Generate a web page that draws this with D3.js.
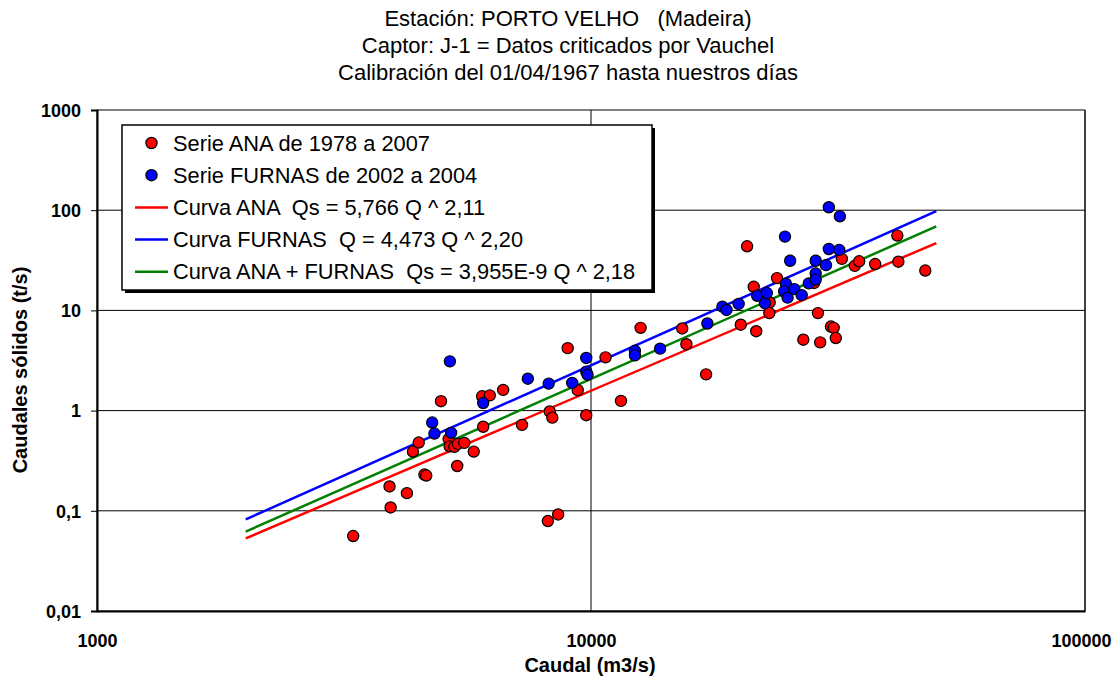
<!DOCTYPE html>
<html>
<head>
<meta charset="utf-8">
<script src="https://cdn.jsdelivr.net/npm/d3@7"></script>
<style>
  body { margin: 0; background: #fff; }
  svg { font-family: Arial, "Liberation Sans", sans-serif; }
  svg text { white-space: pre; }
</style>
</head>
<body>
<div class="item"></div>
<script>
// datos
var titleLines = ["Estación: PORTO VELHO   (Madeira)",
                  "Captor: J-1 = Datos criticados por Vauchel",
                  "Calibración del 01/04/1967 hasta nuestros días"];

// Serie ANA (Q m3/s, Qs t/s)
var anaQ  = [3300, 3910, 3930, 4240, 4360, 4480, 4600, 4640, 4970, 5150, 5175, 5290, 5380, 5540,
             5360, 5790, 6020, 6240, 6050, 6640, 7250, 8250, 8350, 8180, 8580, 8970, 9400, 9780,
             10700, 11500, 12600, 15300, 15600, 17100, 20100, 20700, 21350, 21600, 23000, 22960,
             23800, 26900, 28300, 28800, 29100, 30600, 31000, 31300, 32200, 34200, 34900, 37600,
             41700, 41900, 47500];
var anaQs = [0.056, 0.175, 0.108, 0.15, 0.39, 0.48, 0.23, 0.225, 1.24, 0.52, 0.44, 0.435, 0.465, 0.476,
             0.28, 0.39, 1.39, 1.42, 0.69, 1.61, 0.72, 0.98, 0.85, 0.079, 0.092, 4.2, 1.6, 0.9,
             3.4, 1.25, 6.7, 6.6, 4.6, 2.3, 7.2, 43.6, 17.2, 6.2, 12, 9.4,
             21, 5.1, 18.8, 9.4, 4.8, 6.9, 6.7, 5.3, 32.7, 27.8, 30.9, 29,
             55.8, 30.6, 25];

// Serie FURNAS
var furnasQ  = [4770, 4820, 5180, 5210, 6050, 7450, 8210, 9160, 9780, 9780, 9840, 12270, 12270, 13800,
                17200, 18450, 18800, 19900, 21700, 22500, 22700, 24700, 25300, 24800, 24600, 25000,
                25800, 26700, 27600, 28500, 28500, 28500, 29900, 30300, 30300, 31900, 31800];
var furnasQs = [0.76, 0.59, 3.1, 0.6, 1.19, 2.08, 1.86, 1.89, 3.35, 2.45, 2.28, 3.95, 3.56, 4.15,
                7.4, 10.9, 10.1, 11.6, 14, 11.8, 14.9, 54.5, 31.3, 18.5, 15.5, 13.4,
                16.3, 14.2, 18.6, 23.4, 20.3, 31.3, 28.3, 107, 41, 87, 40.2];

// curvas (extremos)
var curveQ      = [2000, 50000];
var curveAna    = [0.053, 47];
var curveFurnas = [0.082, 98];
var curveMix    = [0.062, 69];

var legendLabels = ["Serie ANA de 1978 a 2007",
                    "Serie FURNAS de 2002 a 2004",
                    "Curva ANA  Qs = 5,766 Q ^ 2,11",
                    "Curva FURNAS  Q = 4,473 Q ^ 2,20",
                    "Curva ANA + FURNAS  Qs = 3,955E-9 Q ^ 2,18"];
var legendColors = ["#ff0000", "#0000ff", "#ff0000", "#0000ff", "#008000"];

var xTicks = [1000, 10000, 100000];
var yTicks = [0.01, 0.1, 1, 10, 100, 1000];

var width = 1119;
var height = 681;

var svg = d3.select(".item")
    .append("svg")
    .attr("width", width)
    .attr("height", height);

var x = d3.scaleLog().domain([1000, 100000]).range([97, 1085]);
var y = d3.scaleLog().domain([0.01, 1000]).range([611, 110]);

// titulo
svg.selectAll(".title")
    .data(titleLines)
    .enter().append("text")
    .attr("x", 568)
    .attr("y", function(d, i){ return 26 + i * 27; })
    .attr("text-anchor", "middle")
    .style("font-size", "22px")
    .text(function(d){ return d; });

// rejilla
svg.selectAll(".hgrid")
    .data(yTicks)
    .enter().append("line")
    .attr("x1", x(1000)).attr("x2", x(100000))
    .attr("y1", function(d){ return y(d); })
    .attr("y2", function(d){ return y(d); })
    .style("stroke", "#000")
    .style("stroke-width", 1);

svg.selectAll(".vgrid")
    .data(xTicks)
    .enter().append("line")
    .attr("x1", function(d){ return x(d); })
    .attr("x2", function(d){ return x(d); })
    .attr("y1", y(1000)).attr("y2", y(0.01))
    .style("stroke", "#000")
    .style("stroke-width", function(d){ return d == 100000 ? 1.5 : 1; });

// ejes
var fmt = function(d){ return String(d).replace(".", ","); };

var yAxis = svg.append("g")
    .attr("transform", "translate(" + x(1000) + ",0)")
    .call(d3.axisLeft(y).tickValues(yTicks).tickFormat(fmt).tickSize(6).tickPadding(10));
yAxis.select(".domain").style("stroke-width", 2);
yAxis.selectAll("text").style("font-size", "18px").style("font-weight", "bold").attr("dy", "0.35em");

var xAxis = svg.append("g")
    .attr("transform", "translate(0," + y(0.01) + ")")
    .call(d3.axisBottom(x).tickValues(xTicks).tickFormat(d3.format("d")).tickSize(0));
xAxis.select(".domain").style("stroke-width", 2);
xAxis.selectAll("text")
    .attr("y", 36).attr("dy", "0")
    .style("font-size", "18px").style("font-weight", "bold")
    .attr("dx", function(d){ return d == 100000 ? "-4px" : "0"; });

// titulos de ejes
svg.append("text")
    .attr("x", 590).attr("y", 672)
    .attr("text-anchor", "middle")
    .style("font-size", "20px").style("font-weight", "bold")
    .text("Caudal (m3/s)");

svg.append("text")
    .attr("transform", "translate(27,370) rotate(-90)")
    .attr("text-anchor", "middle")
    .style("font-size", "20px").style("font-weight", "bold")
    .text("Caudales sólidos (t/s)");

// curvas
var line = d3.line()
    .x(function(d){ return x(d[0]); })
    .y(function(d){ return y(d[1]); });

[[curveAna, "#ff0000"], [curveMix, "#008000"], [curveFurnas, "#0000ff"]].forEach(function(c){
    svg.append("path")
        .datum(d3.zip(curveQ, c[0]))
        .attr("d", line)
        .style("fill", "none")
        .style("stroke", c[1])
        .style("stroke-width", 2.5);
});

// puntos
svg.selectAll(".ana")
    .data(d3.zip(anaQ, anaQs))
    .enter().append("circle")
    .attr("cx", function(d){ return x(d[0]); })
    .attr("cy", function(d){ return y(d[1]); })
    .attr("r", 5.6)
    .style("fill", "#ff0000")
    .style("stroke", "#000")
    .style("stroke-width", 1.2);

svg.selectAll(".furnas")
    .data(d3.zip(furnasQ, furnasQs))
    .enter().append("circle")
    .attr("cx", function(d){ return x(d[0]); })
    .attr("cy", function(d){ return y(d[1]); })
    .attr("r", 5.6)
    .style("fill", "#0000ff")
    .style("stroke", "#000")
    .style("stroke-width", 1.2);

// leyenda
var lg = svg.append("g");
lg.append("rect")
    .attr("x", 125).attr("y", 128).attr("width", 530).attr("height", 165)
    .style("fill", "#000");
lg.append("rect")
    .attr("x", 122).attr("y", 125).attr("width", 530).attr("height", 165)
    .style("fill", "#fff").style("stroke", "#000").style("stroke-width", 1.5);

var items = lg.selectAll(".item")
    .data(legendLabels)
    .enter().append("g")
    .attr("transform", function(d, i){ return "translate(0," + (143 + i * 32.2) + ")"; });

items.each(function(d, i){
    var g = d3.select(this);
    if (i < 2) {
        g.append("circle").attr("cx", 151.5).attr("cy", 0).attr("r", 5.6)
            .style("fill", legendColors[i]).style("stroke", "#000").style("stroke-width", 1.2);
    } else {
        g.append("line").attr("x1", 135).attr("x2", 168).attr("y1", 0).attr("y2", 0)
            .style("stroke", legendColors[i]).style("stroke-width", 2.5);
    }
});

items.append("text")
    .attr("x", 173).attr("y", 0).attr("dy", "0.35em")
    .style("font-size", "21.8px")
    .text(function(d){ return d; });
</script>
</body>
</html>
